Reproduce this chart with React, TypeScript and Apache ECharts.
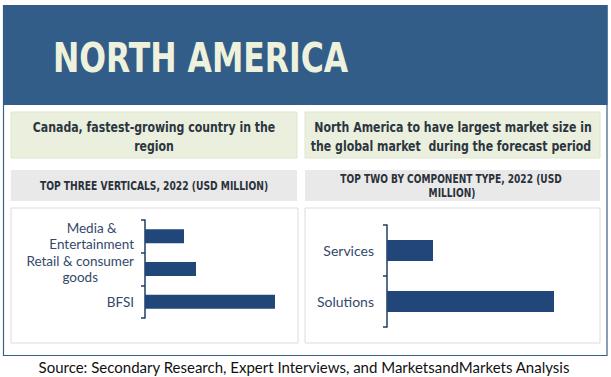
import React, { useEffect, useRef } from "react";
import * as echarts from "echarts";

const verticalCategories = ["Media &\nEntertainment", "Retail & consumer\ngoods", "BFSI"];
const verticalValues = [39, 51, 130];
const componentCategories = ["Services", "Solutions"];
const componentValues = [46, 167];

const titleText = "NORTH AMERICA";
const leftHeadline = ["Canada, fastest-growing country in the", "region"];
const rightHeadline = ["North America to have largest market size in", "the global market  during the forecast period"];
const leftSubtitle = ["TOP THREE VERTICALS, 2022 (USD MILLION)"];
const rightSubtitle = ["TOP TWO BY COMPONENT TYPE, 2022 (USD", "MILLION)"];
const sourceText = "Source: Secondary Research, Expert Interviews, and MarketsandMarkets Analysis";

const BAR = "#21467a";
const AXIS = "#1f3c66";
const LABEL = "#34496a";
const COND = "'DejaVu Sans Condensed', 'Liberation Sans Narrow', sans-serif";
const BODY = "Lato, 'Open Sans', sans-serif";

export default function App() {
  const ref = useRef<HTMLDivElement>(null);
  useEffect(() => {
    if (!ref.current) return;
    const chart = echarts.init(ref.current, null, { renderer: "svg" });
    const labelFmt = (v: string) => v.split("\n").map((s) => `{c|${s}}`).join("\n");
    const rich = { c: { align: "center", fontSize: 13.5, lineHeight: 16, color: LABEL, fontFamily: BODY } };
    const headStyle = (text: string) => ({ text, fill: "#2c3640", font: `bold 14.5px ${COND}`, textAlign: "center", textVerticalAlign: "middle" });
    const subStyle = (text: string) => ({ text, fill: "#2a323b", font: `bold 12px ${COND}`, textAlign: "center", textVerticalAlign: "middle" });
    const option: any = {
      animation: false,
      backgroundColor: "#ffffff",
      graphic: [
        // outer frame
        { type: "rect", shape: { x: 3.5, y: 5.5, width: 603.5, height: 350 }, style: { fill: "#ffffff", stroke: "#3b6089", lineWidth: 1.2 }, z: -10 },
        { type: "rect", shape: { x: 3, y: 5, width: 604.5, height: 100 }, style: { fill: "#325d88" }, z: -9 },
        { type: "text", x: 53, y: 58, scaleX: 0.875, style: { text: titleText, fill: "#eef2dc", font: `bold 40px ${COND}`, textVerticalAlign: "middle" }, z: 5 },
        // green boxes
        { type: "rect", shape: { x: 11, y: 112, width: 286, height: 46 }, style: { fill: "#ebf0de", stroke: "#dfe5cf", lineWidth: 1 }, z: -8 },
        { type: "rect", shape: { x: 305, y: 112, width: 295, height: 46 }, style: { fill: "#ebf0de", stroke: "#dfe5cf", lineWidth: 1 }, z: -8 },
        { type: "text", x: 154, y: 127, scaleX: 0.84, style: headStyle(leftHeadline[0]), z: 5 },
        { type: "text", x: 154, y: 146, scaleX: 0.84, style: headStyle(leftHeadline[1]), z: 5 },
        { type: "text", x: 453, y: 127, scaleX: 0.84, style: headStyle(rightHeadline[0]), z: 5 },
        { type: "text", x: 451, y: 146, scaleX: 0.84, style: headStyle(rightHeadline[1]), z: 5 },
        // gray boxes
        { type: "rect", shape: { x: 11, y: 170, width: 286, height: 31 }, style: { fill: "#e9e9e9" }, z: -8 },
        { type: "rect", shape: { x: 305, y: 170, width: 295, height: 31 }, style: { fill: "#e9e9e9" }, z: -8 },
        { type: "text", x: 154, y: 186, scaleX: 0.85, style: subStyle(leftSubtitle[0]), z: 5 },
        { type: "text", x: 451, y: 179, scaleX: 0.84, style: subStyle(rightSubtitle[0]), z: 5 },
        { type: "text", x: 452, y: 193, scaleX: 0.84, style: subStyle(rightSubtitle[1]), z: 5 },
        // chart panels
        { type: "rect", shape: { x: 11, y: 208, width: 287, height: 135 }, style: { fill: "#ffffff", stroke: "#dcdcdc", lineWidth: 1 }, z: -8 },
        { type: "rect", shape: { x: 305, y: 208, width: 295, height: 135 }, style: { fill: "#ffffff", stroke: "#dcdcdc", lineWidth: 1 }, z: -8 },
        // source
        { type: "text", x: 304, y: 367, style: { text: sourceText, fill: "#111111", font: `15px ${BODY}`, textAlign: "center", textVerticalAlign: "middle" }, z: 5 },
      ],
      grid: [
        { left: 145, top: 220, width: 140, height: 98, containLabel: false },
        { left: 387, top: 225, width: 180, height: 102, containLabel: false },
      ],
      xAxis: [
        { gridIndex: 0, type: "value", min: 0, max: 140, show: false },
        { gridIndex: 1, type: "value", min: 0, max: 180, show: false },
      ],
      yAxis: [
        {
          gridIndex: 0, type: "category", data: verticalCategories, inverse: true,
          axisLine: { show: true, lineStyle: { color: AXIS, width: 1.5 } },
          axisTick: { show: true, length: 4, lineStyle: { color: AXIS, width: 1.5 } },
          axisLabel: { align: "right", margin: 11, formatter: labelFmt, rich },
          splitLine: { show: false },
        },
        {
          gridIndex: 1, type: "category", data: componentCategories, inverse: true,
          axisLine: { show: true, lineStyle: { color: AXIS, width: 1.5 } },
          axisTick: { show: true, length: 4, lineStyle: { color: AXIS, width: 1.5 } },
          axisLabel: { align: "right", margin: 13, color: LABEL, fontSize: 14, fontFamily: BODY },
          splitLine: { show: false },
        },
      ],
      series: [
        { type: "bar", xAxisIndex: 0, yAxisIndex: 0, data: verticalValues, barWidth: 14, itemStyle: { color: BAR } },
        { type: "bar", xAxisIndex: 1, yAxisIndex: 1, data: componentValues, barWidth: 21, itemStyle: { color: BAR } },
      ],
    };
    chart.setOption(option);
    return () => chart.dispose();
  }, []);
  return <div ref={ref} style={{ position: "fixed", left: 0, top: 0, width: 611, height: 377 }} />;
}
